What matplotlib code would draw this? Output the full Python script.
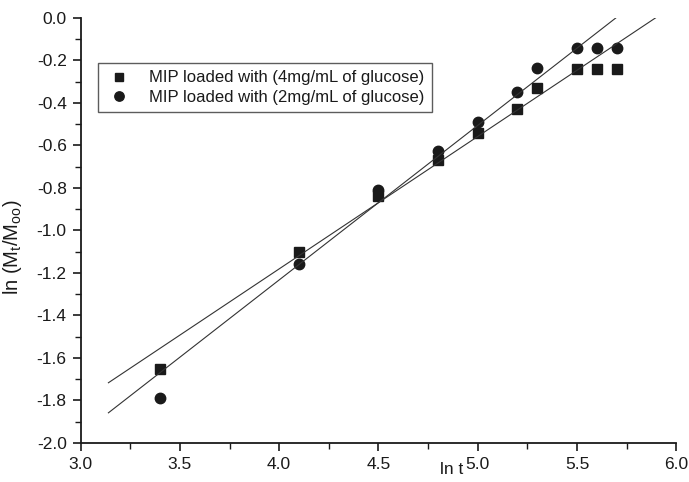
import matplotlib
matplotlib.use("Agg")
import matplotlib.pyplot as plt
import numpy as np
from matplotlib.ticker import MultipleLocator, FormatStrFormatter

plt.rcParams['font.family'] = ['Liberation Sans', 'DejaVu Sans']
plt.rcParams['mathtext.default'] = 'regular'

ln_t = [3.4, 4.1, 4.5, 4.8, 5.0, 5.2, 5.3, 5.5, 5.6, 5.7]
y_4mg = [-1.65, -1.10, -0.84, -0.67, -0.54, -0.43, -0.33, -0.24, -0.24, -0.24]
y_2mg = [-1.79, -1.16, -0.81, -0.625, -0.49, -0.35, -0.235, -0.14, -0.14, -0.14]

# fitted lines (slope, intercept, x range)
fit_4mg = (0.623, -3.673, 3.14, 5.90)
fit_2mg = (0.727, -4.141, 3.14, 5.695)

labels = ['MIP loaded with (4mg/mL of glucose)', 'MIP loaded with (2mg/mL of glucose)']

fig = plt.figure(figsize=(6.89, 4.82), dpi=100)
ax = fig.add_axes([0.117, 0.081, 0.8646, 0.882])

ax.plot(ln_t, y_4mg, 's', color='#1a1a1a', markersize=7, label=labels[0], linestyle='none')
ax.plot(ln_t, y_2mg, 'o', color='#1a1a1a', markersize=7.5, label=labels[1], linestyle='none')

for s, b, x0, x1 in (fit_4mg, fit_2mg):
    xs = np.array([x0, x1])
    ax.plot(xs, s * xs + b, color='#333333', linewidth=0.8)

ax.set_xlim(3.0, 6.0)
ax.set_ylim(-2.0, 0.0)
ax.xaxis.set_major_locator(MultipleLocator(0.5))
ax.xaxis.set_minor_locator(MultipleLocator(0.25))
ax.yaxis.set_major_locator(MultipleLocator(0.2))
ax.yaxis.set_minor_locator(MultipleLocator(0.1))
ax.xaxis.set_major_formatter(FormatStrFormatter('%.1f'))
ax.yaxis.set_major_formatter(FormatStrFormatter('%.1f'))

for sp in ('top', 'right'):
    ax.spines[sp].set_visible(False)
for sp in ('left', 'bottom'):
    ax.spines[sp].set_linewidth(1.3)
    ax.spines[sp].set_color('#1a1a1a')

ax.tick_params(which='major', direction='out', length=6, width=1.2, labelsize=12.5, colors='#1a1a1a', pad=4)
ax.tick_params(which='minor', direction='out', length=4, width=1.0, colors='#1a1a1a')

ax.set_xlabel('ln t', fontsize=12.5, color='#1a1a1a')
ax.xaxis.set_label_coords(0.623, -0.045)
ax.set_ylabel('ln (M$_t$/M$_{oo}$)', fontsize=14.5, color='#1a1a1a')
ax.yaxis.set_label_coords(-0.095, 0.46)

leg = ax.legend(loc='upper left', bbox_to_anchor=(0.029, 0.894), borderaxespad=0,
                fontsize=12, frameon=True, fancybox=False, handletextpad=1.0,
                borderpad=0.45, labelspacing=0.25, handlelength=1.6, markerscale=0.9)
leg.get_frame().set_edgecolor('#333333')
leg.get_frame().set_linewidth(1.0)
for t in leg.get_texts():
    t.set_color('#1a1a1a')

fig.savefig('out.png', dpi=100)
